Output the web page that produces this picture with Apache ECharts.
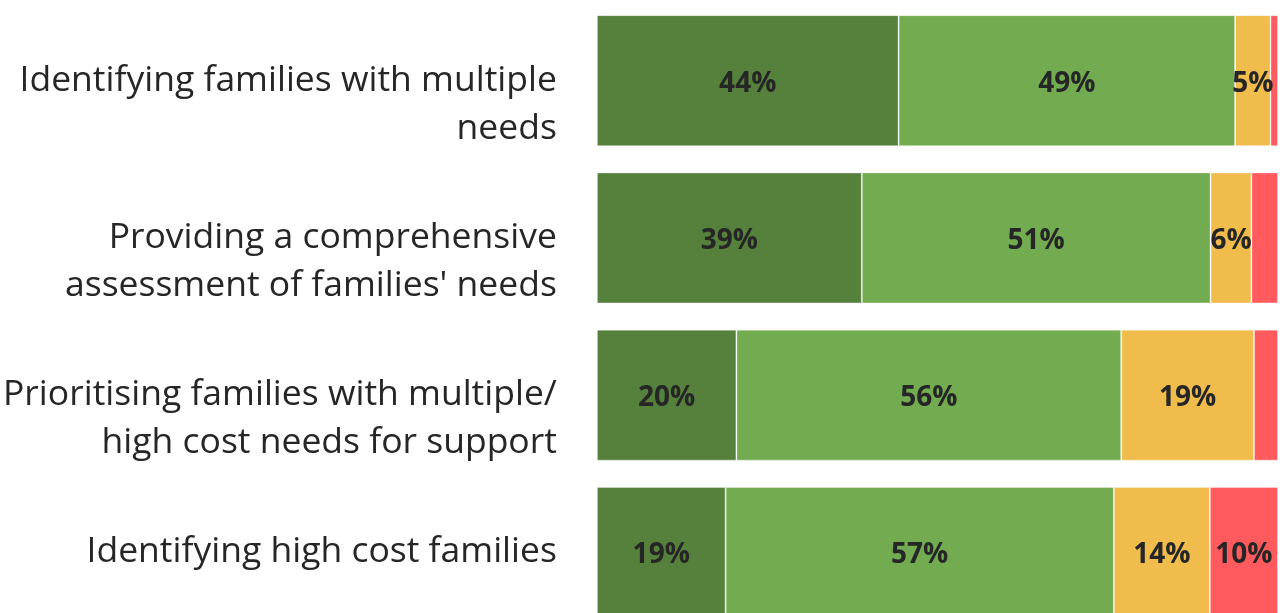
<!DOCTYPE html>
<html>
<head>
<meta charset="utf-8">
<script src="https://cdn.jsdelivr.net/npm/echarts@6/dist/echarts.min.js"></script>
<style>
  html, body { margin: 0; padding: 0; background: #ffffff; overflow: hidden; }
  /* the last bar runs past the lower edge of the window */
  #chart { width: 1286px; height: 631px; }
</style>
</head>
<body>
<div id="chart"></div>
<script>
// Survey items, top to bottom (line breaks as they appear on the axis)
const categories = [
  'Identifying families with multiple\nneeds',
  'Providing a comprehensive\nassessment of families\' needs',
  'Prioritising families with multiple/\nhigh cost needs for support',
  'Identifying high cost families'
];

// Share of respondents per rating band (%)
const veryEffective   = [44.3, 38.9, 20.49, 18.9];
const effective       = [49.4, 51.2, 56.49, 57.0];
const ineffective     = [5.2, 6.0, 19.49, 14.1];
const veryIneffective = [1.1, 3.9, 3.53, 10.0];

const seriesNames  = ['Very effective', 'Effective', 'Ineffective', 'Very ineffective'];
const seriesData   = [veryEffective, effective, ineffective, veryIneffective];
const seriesColors = ['#56813C', '#72AB50', '#F0BC4B', '#FF5B5E'];

const FONT = '"Open Sans", "Segoe UI", "DejaVu Sans", sans-serif';

const chart = echarts.init(document.getElementById('chart'), null, { renderer: 'canvas' });

chart.setOption({
  animation: false,
  grid: { left: 596, right: 8, top: 2, bottom: 0, containLabel: false },
  xAxis: {
    type: 'value', min: 0, max: 100, show: false
  },
  yAxis: {
    type: 'category',
    data: categories,
    inverse: true,
    axisLine: { show: false },
    axisTick: { show: false },
    axisLabel: {
      margin: 40,
      fontFamily: FONT,
      fontSize: 35.5,
      lineHeight: 48,
      color: '#262626',
      align: 'right',
      // first line sits level with the bar's centre, extra lines run below it
      formatter: v => v.indexOf('\n') >= 0 ? '\n' + v : v
    }
  },
  series: seriesData.map((d, i) => ({
    name: seriesNames[i],
    type: 'bar',
    stack: 'total',
    barWidth: 131,
    data: d,
    itemStyle: {
      color: seriesColors[i],
      borderColor: 'rgba(255,255,255,0.35)',
      borderWidth: 1
    },
    label: {
      show: true,
      position: 'inside',
      offset: [0, 3],
      fontFamily: FONT,
      fontWeight: 'bold',
      fontSize: 28,
      color: '#262626',
      formatter: p => p.value >= 4.5 ? Math.round(p.value) + '%' : ''
    }
  }))
});
</script>
</body>
</html>
